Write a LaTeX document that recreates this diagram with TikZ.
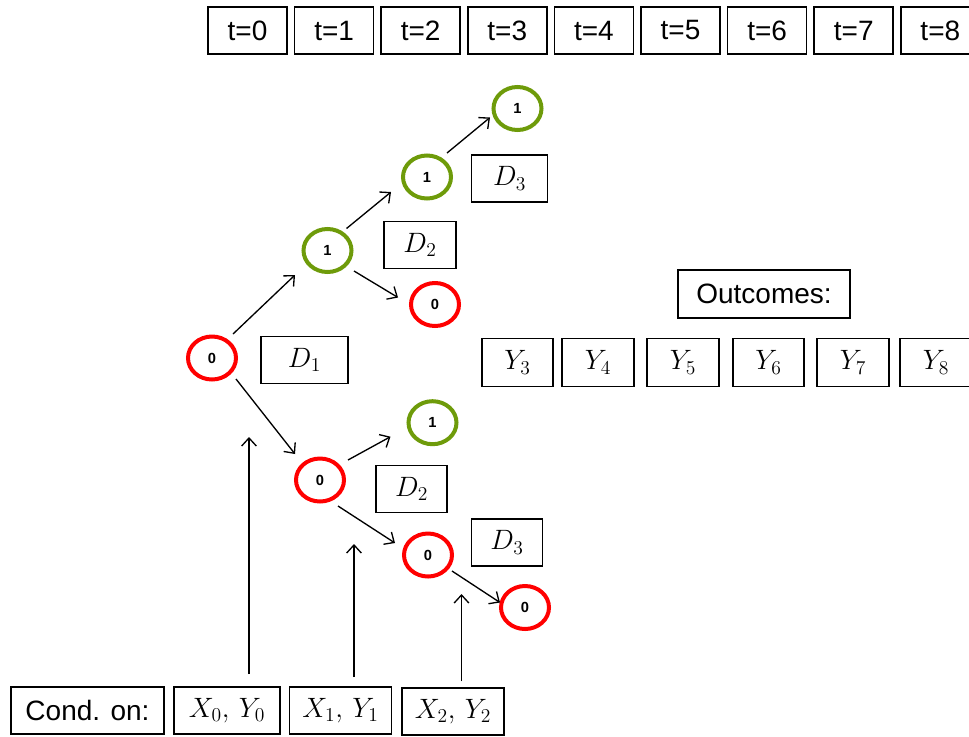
\RequirePackage{fix-cm}
\documentclass[tikz,border=0pt]{standalone}
\usepackage{fontspec}
\setmainfont{Liberation Sans}
\usetikzlibrary{arrows.meta,calc,shapes.geometric}
\definecolor{cred}{RGB}{255,0,0}
\definecolor{cgreen}{RGB}{110,155,10}
\tikzset{
  box/.style={draw, line width=1.1pt, inner sep=0pt, minimum height=35.25pt,
    font=\fontsize{21}{25}\selectfont},
  st/.style={ellipse, draw, line width=3pt, minimum width=36pt,
    minimum height=32.25pt, inner sep=0pt,
    font=\fontsize{11}{12}\selectfont\bfseries},
  zero/.style={st, draw=cred},
  one/.style={st, draw=cgreen},
  arr/.style={line width=1pt, -{Straight Barb[length=6pt,width=11pt,line width=1pt]}},
}
\begin{document}
\begin{tikzpicture}[x=0.75pt,y=-0.75pt]
\clip (0,0) rectangle (969,736);
% time boxes
\foreach \i in {0,...,8}
  \node[box, minimum width=59.25pt] (t\i) at ({247.5+86.6*\i},30.5) {t=\i};
% states
\node[zero] (A) at (212,358) {0};
\node[one]  (B) at (327.5,250.5) {1};
\node[one]  (C) at (427,177) {1};
\node[one]  (Dn) at (517.5,108.5) {1};
\node[zero] (E) at (435,304.5) {0};
\node[zero] (F) at (320,480) {0};
\node[one]  (G) at (432.5,422.7) {1};
\node[zero] (H) at (428,555) {0};
\node[zero] (I) at (525,607.5) {0};
% decision boxes
\node[box, minimum width=65.25pt] (D1) at (304.5,360) {$D_1$};
\node[box, minimum width=54pt] (D2u) at (420,245) {$D_2$};
\node[box, minimum width=57pt] (D3u) at (509.7,178.5) {$D_3$};
\node[box, minimum width=53.25pt] (D2l) at (411.7,489) {$D_2$};
\node[box, minimum width=53.25pt] (D3l) at (507,542.5) {$D_3$};
% outcomes
\node[box, minimum width=129pt, minimum height=36pt] (out) at (764,294) {Outcomes:};
\node[box, minimum width=53.25pt, minimum height=36pt] (Y3) at (517.5,362.5) {$Y_3$};
\node[box, minimum width=54pt, minimum height=36pt] (Y4) at (598,362.5) {$Y_4$};
\node[box, minimum width=54pt, minimum height=36pt] (Y5) at (683,362.5) {$Y_5$};
\node[box, minimum width=53.25pt, minimum height=36pt] (Y6) at (768.5,362.5) {$Y_6$};
\node[box, minimum width=54pt, minimum height=36pt] (Y7) at (853,362.5) {$Y_7$};
\node[box, minimum width=54pt, minimum height=36pt] (Y8) at (936,362.5) {$Y_8$};
% conditioning
\node[box, minimum width=114.75pt] (cond) at (87.5,710.5) {Cond. on:};
\node[box, minimum width=79.5pt] (X0) at (227,710.3) {$X_0,\,Y_0$};
\node[box, minimum width=76.5pt] (X1) at (340.5,710.3) {$X_1,\,Y_1$};
\node[box, minimum width=76.5pt] (X2) at (453,711.5) {$X_2,\,Y_2$};
% tree arrows
\draw[arr] ($(A)+(21,-24)$) -- ($(B)+(-32.5,24.5)$);
\draw[arr] ($(B)+(19,-22)$) -- ($(C)+(-36,15)$);
\draw[arr] ($(C)+(20,-24)$) -- ($(Dn)+(-27.5,9)$);
\draw[arr] ($(B)+(26.5,20.5)$) -- ($(E)+(-37,-7)$);
\draw[arr] ($(A)+(24,21)$) -- ($(F)+(-25,-26)$);
\draw[arr] ($(F)+(28,-20)$) -- ($(G)+(-42,14)$);
\draw[arr] ($(F)+(18,26)$) -- ($(H)+(-33,-12)$);
\draw[arr] ($(H)+(24,16)$) -- ($(I)+(-25,-5)$);
% conditioning arrows
\coordinate (c0) at (249,437);
\coordinate (c1) at (354,544);
\coordinate (c2) at (461.5,594);
\draw[arr] ($(X0.north)+(22,-12)$) -- (c0);
\draw[arr] ($(X1.north)+(13.5,-9)$) -- (c1);
\draw[arr] ($(X2.north)+(8.5,-6)$) -- (c2);
\end{tikzpicture}
\end{document}
